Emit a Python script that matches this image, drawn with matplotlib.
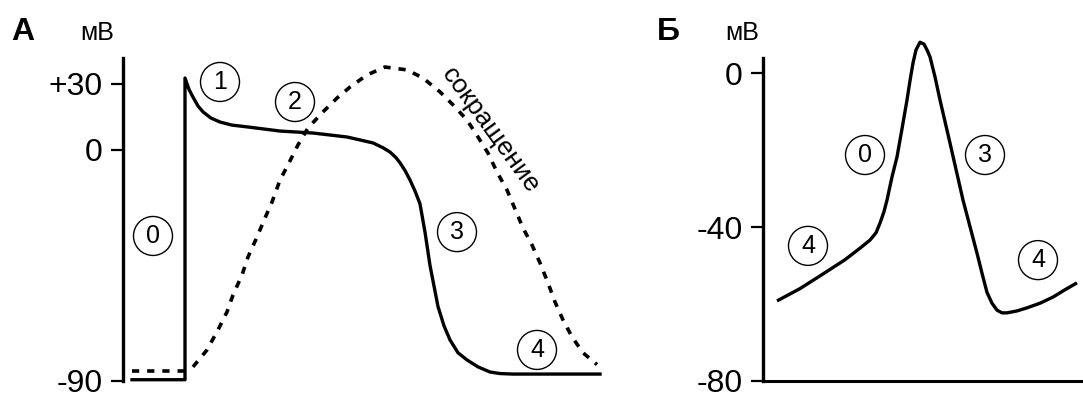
import matplotlib.pyplot as plt
import numpy as np

plt.rcParams['font.family'] = ['Liberation Sans', 'DejaVu Sans']

# ---- panel A: ventricular action potential (time in arbitrary units, mV) ----
ap_t = [9, 62, 62, 66, 70, 75, 80, 88, 97, 109, 124, 157, 190, 224, 250, 260, 267,
        273, 277, 282, 287, 292, 297, 302, 307, 315, 321, 327, 335, 344, 355, 367,
        377, 390, 477]
ap_mv = [-89.5, -89.5, 32.7, 27.5, 24, 20, 17.3, 14.5, 12.7, 11.3, 10.5, 8.6, 7.7,
         5.9, 3.2, 1, -0.8, -3, -5, -8, -11.7, -16, -21, -32, -45, -61, -68.5, -74,
         -79, -81.8, -84.5, -86.5, -87.1, -87.3, -87.3]

rest_t = [9, 62]
rest_mv = [-86, -86]

con_t = [70, 84, 95, 104, 110, 119, 125, 134, 142, 149, 157, 165, 175, 185, 200,
         214, 227, 244, 262, 284, 300, 317, 330, 344, 355, 365, 374, 384, 392, 400,
         409, 417, 425, 432, 440, 449, 460, 474]
con_mv = [-84.5, -77.9, -70.1, -63.1, -56.5, -48.7, -41.7, -33.9, -26.5, -20.3,
          -11.7, -5.8, 2.3, 10, 17.3, 23.6, 28.6, 34.1, 37.7, 36.4, 32.7, 26.4,
          20.5, 13.6, 5.9, -1.2, -8.6, -15.6, -23, -30.4, -37, -44, -51.8, -59.2,
          -66.2, -72.8, -79, -83.6]

a_ticks = [30, 0, -90]
a_ticklabels = ['+30', '0', '-90']
a_phases = [('0', 30, -33.5), ('1', 97, 30.9), ('2', 172, 21.8),
            ('3', 334, -32), ('4', 414, -77.9)]

# ---- panel B: pacemaker (sinoatrial) action potential ----
b_t = [14, 37, 57, 82, 97, 107, 113, 117, 121, 124, 129, 134, 139, 144, 147, 150,
       153, 157, 161, 164, 167, 172, 177, 187, 200, 214, 219, 224, 229, 234, 239,
       244, 254, 264, 277, 290, 302, 314]
b_mv = [-59.2, -56, -52.7, -48.5, -45.5, -43.4, -41.5, -39, -36, -33, -27, -21.8,
        -14.5, -7, -2, 2.6, 6, 8, 7.5, 6, 4.2, -1, -7, -18.2, -33, -46.8, -52, -57,
        -59.8, -61.6, -62.3, -62.3, -61.8, -61, -59.8, -58.2, -56.3, -54.5]

b_ticks = [0, -40, -80]
b_ticklabels = ['0', '-40', '-80']
b_phases = [('4', 45, -44.9), ('0', 102, -21.3), ('3', 222, -21.3), ('4', 275, -48.6)]

LW = 2.4
fig = plt.figure(figsize=(10.83, 3.94), dpi=100)
axA = fig.add_axes([123 / 1083, 13 / 394, 482 / 1083, 323 / 394])
axB = fig.add_axes([763 / 1083, 13 / 394, 320 / 1083, 323 / 394])


# schematic y axis of panel A: the positive part is drawn a bit compressed
def fwd(y):
    y = np.asarray(y, dtype=float)
    return np.where(y >= 0, y, y * 1.1667)


def inv(u):
    u = np.asarray(u, dtype=float)
    return np.where(u >= 0, u, u / 1.1667)


axA.set_yscale('function', functions=(fwd, inv))
axA.set_ylim(-90, 41.8)
axA.set_xlim(0, 482)

axA.plot(ap_t, ap_mv, color='black', lw=LW, solid_joinstyle='round',
         clip_on=False)
axA.plot(rest_t, rest_mv, color='black', lw=2.6, dashes=(2.0, 2.2),
         clip_on=False)
axA.plot(con_t, con_mv, color='black', lw=2.6, dashes=(2.0, 2.2),
         clip_on=False)

axA.text(367, 9, 'сокращение', rotation=-54, rotation_mode='anchor',
         ha='center', va='center', fontsize=19)

axB.set_ylim(-80, 3.9)
axB.set_xlim(0, 320)
axB.plot(b_t, b_mv, color='black', lw=LW, solid_joinstyle='round',
         solid_capstyle='butt', clip_on=False)

for ax, ticks, labels, phases in [(axA, a_ticks, a_ticklabels, a_phases),
                                  (axB, b_ticks, b_ticklabels, b_phases)]:
    ax.set_yticks(ticks)
    ax.set_yticklabels(labels)
    ax.set_xticks([])
    ax.tick_params(axis='y', length=8.5, width=1.6, pad=6, labelsize=23)
    ax.spines['top'].set_visible(False)
    ax.spines['right'].set_visible(False)
    ax.spines['left'].set_linewidth(2.4)
    ax.spines['bottom'].set_linewidth(2.2)
    ax.patch.set_alpha(0)
    for label, t, v in phases:
        ax.text(t, v, label, ha='center', va='center', fontsize=18,
                bbox=dict(boxstyle='circle,pad=0.3', fc='none', ec='black',
                          lw=1.0))

axA.spines['bottom'].set_visible(False)

fig.text(23 / 1083, 1 - 32 / 394, 'А', fontsize=23, fontweight='bold',
         ha='center', va='center')
fig.text(97 / 1083, 1 - 33 / 394, 'мВ', fontsize=18, ha='center', va='center')
fig.text(668 / 1083, 1 - 32 / 394, 'Б', fontsize=23, fontweight='bold',
         ha='center', va='center')
fig.text(742 / 1083, 1 - 33 / 394, 'мВ', fontsize=18, ha='center', va='center')

fig.savefig('out.png', dpi=100)
